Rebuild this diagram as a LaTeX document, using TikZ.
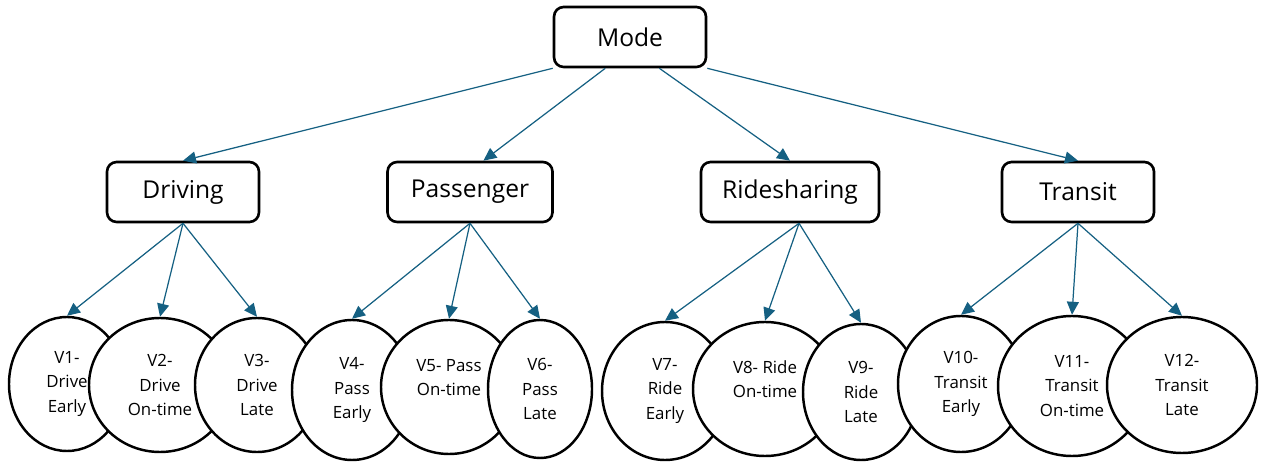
\documentclass[tikz,border=0pt]{standalone}
\usepackage{fontspec}
\setmainfont{Open Sans}
\usetikzlibrary{shapes.geometric,arrows.meta,calc}
\definecolor{linkcolor}{RGB}{21,96,130}

\begin{document}
\begin{tikzpicture}[
    x=0.02cm, y=-0.02cm,
    box/.style={rectangle, draw, line width=1.5pt, rounded corners=5.5pt, minimum width=3.04cm, minimum height=1.2cm, inner xsep=11pt, fill=white, font=\fontsize{14}{16}\selectfont},
    var/.style={ellipse, draw, line width=1.4pt, fill=white, inner sep=0pt, align=center, font=\fontsize{9.6}{13.9}\selectfont},
    twoline/.style={text depth=11pt},
    size/.style 2 args={minimum width=#1*0.02cm, minimum height=#2*0.02cm},
    arrow/.style={-{Triangle[length=7.4pt,width=6.8pt]}, draw=linkcolor, line width=0.7pt}
]
\useasboundingbox (0,0) rectangle (1267,462);

% Top: mode
\node[box] (mode) at (630,37) {Mode};

% Row 1: mode options
\node[box] (driving) at (183,192) {Driving};
\node[box, minimum width=3.3cm] (passenger) at (470,192) {Passenger};
\node[box, minimum width=3.56cm] (ridesharing) at (790,192) {Ridesharing};
\node[box] (transit) at (1078,192) {Transit};

% Row 2: versions
\node[var, size={116}{134}] (v1) at (67,384) {V1-\\Drive\\Early};
\node[var, size={142}{134}] (v2) at (160,385) {V2-\\Drive\\On-time};
\node[var, size={124}{134}] (v3) at (257,385) {V3-\\Drive\\Late};
\node[var, size={120}{140}] (v4) at (352,390) {V4-\\Pass\\Early};
\node[var, twoline, size={136}{134}] (v5) at (449,387) {V5- Pass\\On-time};
\node[var, size={104}{138}] (v6) at (540,389) {V6-\\Pass\\Late};
\node[var, size={126}{138}] (v7) at (665,391) {V7-\\Ride\\Early};
\node[var, twoline, size={144}{134}] (v8) at (765,389) {V8- Ride\\On-time};
\node[var, size={116}{136}] (v9) at (861,392) {V9-\\Ride\\Late};
\node[var, size={126}{136}] (v10) at (961,384) {V10-\\Transit\\Early};
\node[var, size={148}{140}] (v11) at (1072,386) {V11-\\Transit\\On-time};
\node[var, size={150}{136}] (v12) at (1182,385) {V12-\\Transit\\Late};

% Arrows from mode
\draw[arrow] (mode.south west) -- (driving.north);
\draw[arrow] ($(mode.south west)!0.34!(mode.south east)$) -- ($(passenger.north west)!0.58!(passenger.north east)$);
\draw[arrow] ($(mode.south west)!0.69!(mode.south east)$) -- (ridesharing.north);
\draw[arrow] (mode.south east) -- (transit.north);

% Arrows to versions
\draw[arrow] (driving.south) -- (v1.north);
\draw[arrow] (driving.south) -- (v2.north);
\draw[arrow] (driving.south) -- (v3.north);
\draw[arrow] (passenger.south) -- (v4.north);
\draw[arrow] (passenger.south) -- (v5.north);
\draw[arrow] (passenger.south) -- (v6.north);
\draw[arrow] ($(ridesharing.south west)!0.55!(ridesharing.south east)$) -- (v7.north);
\draw[arrow] ($(ridesharing.south west)!0.55!(ridesharing.south east)$) -- (v8.north);
\draw[arrow] ($(ridesharing.south west)!0.55!(ridesharing.south east)$) -- (v9.north);
\draw[arrow] (transit.south) -- (v10.north);
\draw[arrow] (transit.south) -- (v11.north);
\draw[arrow] (transit.south) -- (v12.north);

\end{tikzpicture}
\end{document}
